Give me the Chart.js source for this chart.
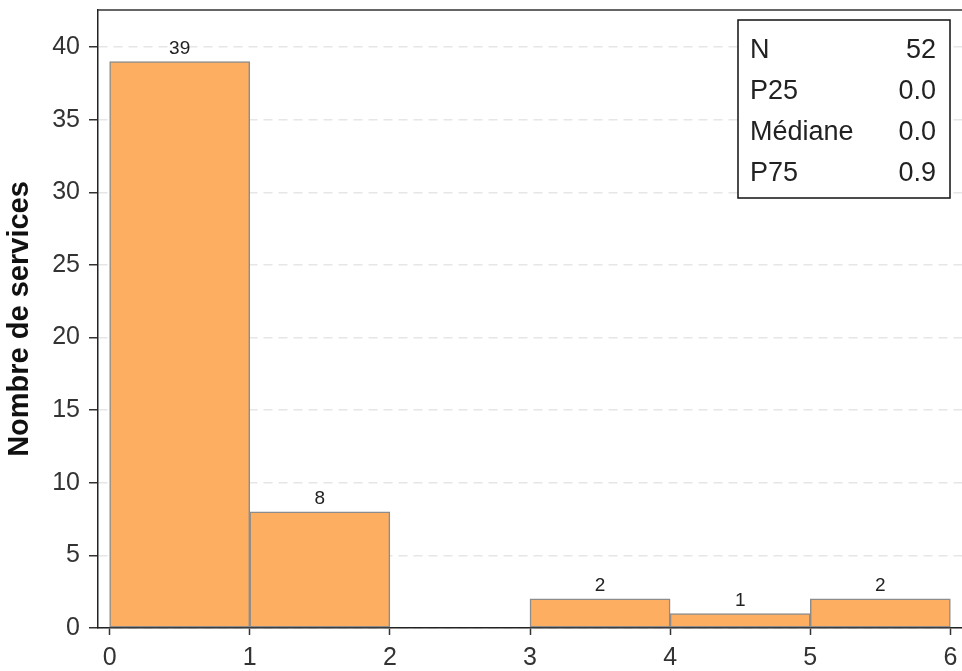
<!DOCTYPE html>
<html>
<head>
<meta charset="utf-8">
<script src="https://cdn.jsdelivr.net/npm/chart.js@4/dist/chart.umd.min.js"></script>
<style>
  html, body { margin: 0; padding: 0; background: #fff; }
  #wrap { width: 962px; height: 671px; position: relative; }
</style>
</head>
<body>
<div id="wrap"><canvas id="c" width="962" height="671"></canvas></div>
<script>
// ---- data ----
const binStarts = [0, 1, 2, 3, 4, 5];
const binWidth = 1;
const counts = [39, 8, 0, 2, 1, 2];
const xTicks = [0, 1, 2, 3, 4, 5, 6];
const yTicks = [0, 5, 10, 15, 20, 25, 30, 35, 40];
const statLabels = ['N', 'P25', 'Médiane', 'P75'];
const statValues = ['52', '0.0', '0.0', '0.9'];
const yTitle = 'Nombre de services';

const FONT = '"Liberation Sans", Arial, Helvetica, sans-serif';

const barData = binStarts.map((s, i) => ({ x: s + binWidth / 2, y: counts[i] }));

const frameLines = {
  id: 'frameLines',
  afterDraw(chart) {
    const { ctx, chartArea: a } = chart;
    ctx.save();
    ctx.strokeStyle = '#333';
    ctx.lineWidth = 1.5;
    ctx.beginPath();
    ctx.moveTo(a.left, a.top);
    ctx.lineTo(a.right, a.top);
    ctx.stroke();
    ctx.restore();
  }
};

const barLabels = {
  id: 'barLabels',
  afterDatasetsDraw(chart) {
    const { ctx } = chart;
    const meta = chart.getDatasetMeta(0);
    ctx.save();
    ctx.fillStyle = '#222';
    ctx.font = '19px ' + FONT;
    ctx.textAlign = 'center';
    ctx.textBaseline = 'middle';
    meta.data.forEach((el, i) => {
      const v = counts[i];
      if (!v) return;
      ctx.fillText(String(v), el.x, el.y - 13);
    });
    ctx.restore();
  }
};

const statsBox = {
  id: 'statsBox',
  afterDraw(chart) {
    const { ctx, chartArea: a } = chart;
    const w = 212, h = 178;
    const right = a.right - 12;
    const left = right - w;
    const top = a.top + 10;
    ctx.save();
    ctx.fillStyle = '#fff';
    ctx.fillRect(left, top, w, h);
    ctx.strokeStyle = '#111';
    ctx.lineWidth = 1.5;
    ctx.strokeRect(left, top, w, h);
    ctx.fillStyle = '#222';
    ctx.font = '27px ' + FONT;
    ctx.textBaseline = 'middle';
    statLabels.forEach((lab, i) => {
      const y = top + 31 + i * 41;
      ctx.textAlign = 'left';
      ctx.fillText(lab, left + 12, y);
      ctx.textAlign = 'right';
      ctx.fillText(statValues[i], right - 14, y);
    });
    ctx.restore();
  }
};

new Chart(document.getElementById('c'), {
  type: 'bar',
  data: {
    datasets: [{
      data: barData,
      backgroundColor: '#fdae61',
      borderColor: '#8c8c8c',
      borderWidth: 1.5,
      borderSkipped: false,
      barPercentage: 1,
      categoryPercentage: 1
    }]
  },
  options: {
    responsive: false,
    animation: false,
    layout: { padding: { top: 10, left: 0, right: 0, bottom: 0 } },
    plugins: { legend: { display: false }, tooltip: { enabled: false } },
    scales: {
      x: {
        type: 'linear',
        offset: false,
        min: -0.083,
        max: 6.083,
        afterBuildTicks(scale) { scale.ticks = xTicks.map(v => ({ value: v })); },
        afterFit(scale) { scale.height = 43; scale.paddingLeft = 0; scale.paddingRight = 0; },
        ticks: {
          stepSize: 1,
          includeBounds: false,
          color: '#333',
          font: { family: FONT, size: 25 },
          padding: 8,
          maxRotation: 0
        },
        grid: {
          offset: false,
          drawOnChartArea: false,
          drawTicks: true,
          tickLength: 7,
          tickColor: '#333',
          tickWidth: 1.5
        },
        border: { display: true, color: '#222', width: 1.5 }
      },
      y: {
        min: 0,
        max: 42.55,
        afterBuildTicks(scale) { scale.ticks = yTicks.map(v => ({ value: v })); },
        afterFit(scale) { scale.width = 98; scale.paddingTop = 0; scale.paddingBottom = 0; },
        ticks: {
          stepSize: 5,
          includeBounds: false,
          color: '#333',
          font: { family: FONT, size: 25 },
          padding: 9
        },
        grid: {
          color: '#e6e6e6',
          lineWidth: 1.5,
          drawTicks: true,
          tickLength: 9,
          tickColor: '#333',
          tickWidth: 1.5
        },
        border: { display: true, color: '#222', width: 1.5, dash: [9, 6] },
        title: {
          display: true,
          text: yTitle,
          color: '#111',
          font: { family: FONT, size: 29, weight: 'bold' },
          padding: { top: 3, bottom: 0 }
        }
      }
    }
  },
  plugins: [frameLines, barLabels, statsBox]
});
</script>
</body>
</html>
